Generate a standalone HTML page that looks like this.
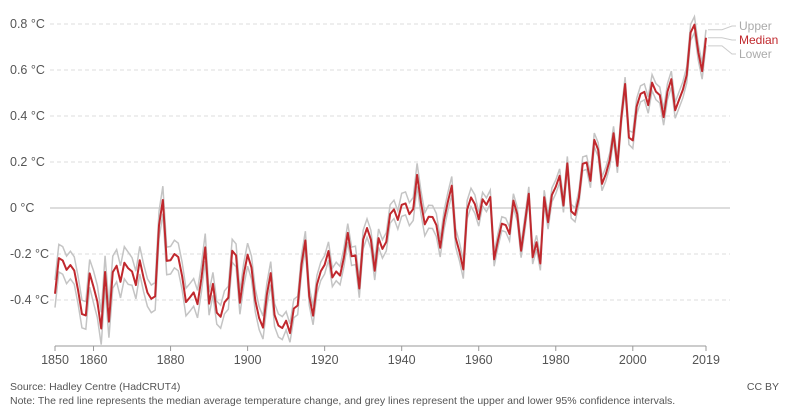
<!DOCTYPE html>
<html><head><meta charset="utf-8"><style>
body{margin:0;background:#fff;font-family:"Liberation Sans",sans-serif;}
svg text{font-family:"Liberation Sans",sans-serif;}
</style></head><body>
<svg id="chart" width="790" height="413">
<g id="grid"></g>
<g id="yt"></g>
<g id="xt"></g>
<g id="series"></g>
<g id="legend"></g>
<text x="10" y="390" font-size="10.5" fill="#555">Source: Hadley Centre (HadCRUT4)</text>
<text x="10" y="404" font-size="10.5" fill="#555">Note: The red line represents the median average temperature change, and grey lines represent the upper and lower 95% confidence intervals.</text>
<text x="779" y="390" font-size="10.5" fill="#555" text-anchor="end">CC BY</text>
</svg>
<script>
const startYear = 1850;
const median = [-0.373,-0.218,-0.228,-0.269,-0.248,-0.272,-0.358,-0.461,-0.467,-0.284,
-0.343,-0.407,-0.524,-0.278,-0.494,-0.279,-0.251,-0.321,-0.238,-0.262,
-0.276,-0.335,-0.227,-0.304,-0.368,-0.395,-0.384,-0.075,0.035,-0.230,
-0.227,-0.200,-0.213,-0.296,-0.409,-0.389,-0.367,-0.418,-0.307,-0.171,
-0.416,-0.330,-0.455,-0.473,-0.410,-0.390,-0.186,-0.206,-0.412,-0.289,
-0.203,-0.259,-0.402,-0.479,-0.520,-0.377,-0.283,-0.465,-0.511,-0.522,
-0.490,-0.544,-0.437,-0.424,-0.244,-0.141,-0.383,-0.468,-0.333,-0.275,
-0.247,-0.187,-0.302,-0.276,-0.294,-0.215,-0.108,-0.210,-0.206,-0.350,
-0.137,-0.087,-0.137,-0.273,-0.131,-0.178,-0.147,-0.026,-0.006,-0.052,
0.014,0.020,-0.027,-0.004,0.144,0.025,-0.071,-0.038,-0.039,-0.074,
-0.173,-0.052,0.028,0.097,-0.129,-0.190,-0.267,-0.007,0.046,0.017,
-0.049,0.038,0.014,0.048,-0.223,-0.140,-0.068,-0.074,-0.113,0.032,
-0.027,-0.186,-0.065,0.062,-0.214,-0.149,-0.241,0.047,-0.062,0.057,
0.092,0.140,0.011,0.194,-0.014,-0.030,0.045,0.192,0.198,0.118,
0.296,0.254,0.105,0.148,0.208,0.325,0.183,0.390,0.539,0.306,
0.294,0.441,0.496,0.505,0.447,0.545,0.506,0.491,0.395,0.506,
0.560,0.425,0.470,0.514,0.579,0.763,0.797,0.677,0.595,0.740];
const ciHalf = [0.06,0.06,0.06,0.06,0.06,0.06,0.06,0.06,0.06,0.06,
0.07,0.07,0.07,0.07,0.07,0.07,0.07,0.07,0.07,0.07,
0.06,0.06,0.06,0.06,0.06,0.06,0.06,0.06,0.06,0.06,
0.06,0.06,0.06,0.06,0.06,0.06,0.06,0.06,0.06,0.06,
0.05,0.05,0.05,0.05,0.05,0.05,0.05,0.05,0.05,0.05,
0.05,0.05,0.05,0.05,0.05,0.05,0.05,0.05,0.05,0.05,
0.04,0.04,0.04,0.04,0.04,0.04,0.04,0.04,0.04,0.04,
0.04,0.04,0.04,0.04,0.04,0.04,0.04,0.04,0.04,0.04,
0.04,0.04,0.04,0.04,0.04,0.04,0.04,0.04,0.04,0.04,
0.05,0.05,0.05,0.05,0.05,0.05,0.05,0.05,0.05,0.05,
0.04,0.04,0.04,0.04,0.04,0.04,0.04,0.04,0.04,0.04,
0.03,0.03,0.03,0.03,0.03,0.03,0.03,0.03,0.03,0.03,
0.03,0.03,0.03,0.03,0.03,0.03,0.03,0.03,0.03,0.03,
0.03,0.03,0.03,0.03,0.03,0.03,0.03,0.03,0.03,0.03,
0.03,0.03,0.03,0.03,0.03,0.03,0.03,0.03,0.03,0.03,
0.035,0.035,0.035,0.035,0.035,0.035,0.035,0.035,0.035,0.035,
0.035,0.035,0.035,0.035,0.035,0.035,0.035,0.035,0.035,0.035];
const yTicks = [-0.4,-0.2,0,0.2,0.4,0.6,0.8];
const yTickLabels = ["-0.4 °C","-0.2 °C","0 °C","0.2 °C","0.4 °C","0.6 °C","0.8 °C"];
const xTicks = [1850,1860,1880,1900,1920,1940,1960,1980,2000,2019];

const NS="http://www.w3.org/2000/svg";
const x = yr => 55 + (yr-1850)*(651/169);
const y = v => 208 - v*230;
function mk(tag,attrs,parent){const e=document.createElementNS(NS,tag);for(const k in attrs)e.setAttribute(k,attrs[k]);parent.appendChild(e);return e;}
const grid=document.getElementById('grid'),yt=document.getElementById('yt'),xt=document.getElementById('xt'),ser=document.getElementById('series'),leg=document.getElementById('legend');
yTicks.forEach((t,i)=>{
  const l=mk('line',{x1:50,x2:730,y1:y(t),y2:y(t),stroke:t===0?'#bbb':'#ddd','stroke-dasharray':t===0?'':'4,3','stroke-width':1},grid);
  
  
  const tx=mk('text',{x:10,y:y(t)+4,'font-size':12.5,fill:'#555'},yt);
  tx.textContent=yTickLabels[i];
  
  
});
const ax=mk('line',{x1:55,x2:706,y1:346,y2:346,stroke:'#999'},xt);


xTicks.forEach(t=>{
  const tk=mk('line',{x1:x(t),x2:x(t),y1:346,y2:351,stroke:'#999'},xt);
  
  
  const tx=mk('text',{x:x(t),y:364,'font-size':12.5,fill:'#555','text-anchor':'middle'},xt);
  tx.textContent=t;
  
  
});
function path(vals){return vals.map((v,i)=>(i?'L':'M')+x(startYear+i).toFixed(2)+','+y(v).toFixed(2)).join('');}
const upper=median.map((v,i)=>v+ciHalf[i]), lower=median.map((v,i)=>v-ciHalf[i]);
const pu=mk('path',{d:path(upper),fill:'none',stroke:'#c4c4c4','stroke-width':1.5},ser);


const pl=mk('path',{d:path(lower),fill:'none',stroke:'#c4c4c4','stroke-width':1.5},ser);


const pm=mk('path',{d:path(median),fill:'none',stroke:'#c0282d','stroke-width':2,'stroke-linejoin':'round'},ser);


const n=median.length-1, ex=x(startYear+n);
[['Upper',upper[n],30,'#aaa'],['Median',median[n],44,'#c0282d'],['Lower',lower[n],58,'#aaa']].forEach(([lab,v,ly,c])=>{
  const cl=mk('polyline',{points:`${ex+2},${y(v)} ${ex+16},${y(v)} ${ex+26},${ly-4} ${ex+30},${ly-4}`,fill:'none',stroke:'#ccc'},leg);
  
  
  const t=mk('text',{x:739,y:ly,'font-size':12,fill:c},leg);
  t.textContent=lab;
  
  
});
</script>
</body></html>
